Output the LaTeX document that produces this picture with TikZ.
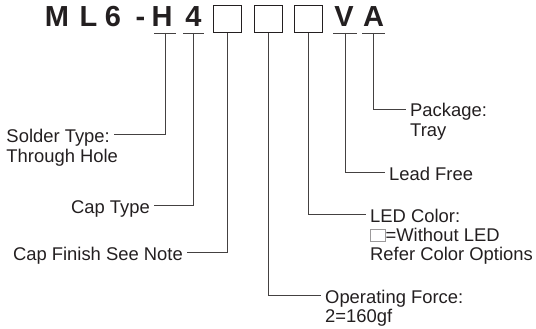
\documentclass[tikz,border=0pt]{standalone}
\usepackage{fontspec}
\setmainfont{Liberation Sans}
\usetikzlibrary{positioning}
\definecolor{ink}{HTML}{231F20}
\tikzset{
    titlechar/.style={anchor=base, inner sep=0pt, text=ink,
        font=\fontsize{29}{29}\selectfont\bfseries},
    codebox/.style={draw=ink, line width=1.3pt, inner sep=0pt,
        minimum width=28pt, minimum height=27pt},
    lbl/.style={inner xsep=4pt, inner ysep=0pt, text height=16pt,
        text depth=0pt, text=ink, font=\fontsize{18.4}{19.5}\selectfont},
    lead/.style={draw=ink!85, line width=0.9pt},
}
\newcommand{\nobox}{{\color{ink!45}\fboxsep=0pt\fboxrule=0.7pt%
    \fbox{\rule{0pt}{11.5pt}\hspace{14pt}}}}

\begin{document}
\begin{tikzpicture}[x=1pt, y=-1pt]
    \useasboundingbox (0, 0) rectangle (536, 329);
    % part number
    \foreach \c/\x/\n in {M/57/cM, L/88.5/cL, 6/113/cSix, -/140.5/cDash,
            H/162/cH, 4/193.5/cFour, V/344/cV, A/373.5/cA} {
        \node[titlechar] (\n) at (\x, 27) {\c};
    }
    \foreach \n/\x in {boxA/227.5, boxB/268.5, boxC/308.5} {
        \node[codebox] (\n) at (\x, 19) {};
    }
    \foreach \n/\x/\w in {uH/165/11pt, uFour/193.5/10.5pt, uV/345/12pt, uA/373.5/11.5pt} {
        \coordinate (\n) at (\x, 33);
        \draw[lead] ([xshift=-\w]\n) -- ([xshift=\w]\n);
    }

    % labels
    \node[lbl, anchor=east] (solder) at (114, 134.5) {Solder Type:};
    \node[lbl, below right=3.2pt and 0pt of solder.south west] (solderB) {Through Hole};
    \node[lbl, anchor=east] (captype) at (154, 205) {Cap Type};
    \node[lbl, anchor=east] (capfinish) at (187, 252) {Cap Finish See Note};
    \node[lbl, anchor=west] (opforce) at (321, 295) {Operating Force:};
    \node[lbl, below right=3.2pt and 0pt of opforce.south west] (opforceB) {2=160gf};
    \node[lbl, anchor=west] (ledcolor) at (366, 214) {LED Color:};
    \node[lbl, below right=3pt and 0pt of ledcolor.south west] (ledcolorB) {\nobox=Without LED};
    \node[lbl, below right=3pt and 0pt of ledcolorB.south west] (ledcolorC) {Refer Color Options};
    \node[lbl, anchor=west] (leadfree) at (385, 172) {Lead Free};
    \node[lbl, anchor=west] (package) at (406, 109) {Package:};
    \node[lbl, below right=3.2pt and 0pt of package.south west] (packageB) {Tray};

    % leader lines
    \draw[lead] (uH) |- (solder.east);
    \draw[lead] (uFour) |- (captype.east);
    \draw[lead] (boxA.south) |- (capfinish.east);
    \draw[lead] (boxB.south) |- (opforce.west);
    \draw[lead] (boxC.south) |- (ledcolor.west);
    \draw[lead] (uV) |- (leadfree.west);
    \draw[lead] (uA) |- (package.west);
\end{tikzpicture}
\end{document}
